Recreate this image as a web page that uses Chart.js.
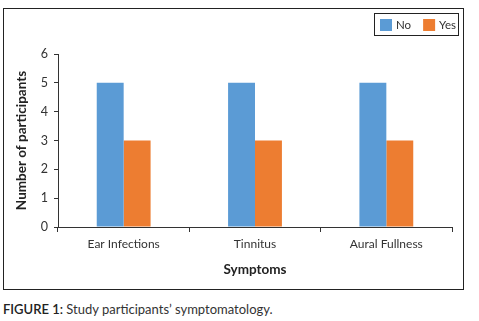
<!DOCTYPE html>
<html>
<head>
<meta charset="utf-8">
<script src="https://cdn.jsdelivr.net/npm/chart.js@4.4.0/dist/chart.umd.min.js"></script>
<style>
  html, body { margin: 0; padding: 0; background: #fff; }
  body { width: 479px; height: 321px; position: relative; overflow: hidden; font-family: Lato, "Open Sans", sans-serif; }
  #box { position: absolute; left: 3px; top: 8px; width: 459px; height: 280px; border: 1px solid #222; }
  #box canvas { display: block; }
  #caption { position: absolute; left: 3px; top: 301px; font-size: 13px; color: #333; white-space: nowrap; }
  #caption b { color: #222; font-weight: 600; }
</style>
</head>
<body>
<div id="box"><canvas id="c" width="459" height="280"></canvas></div>
<div id="caption"><b>FIGURE 1:</b> Study participants’ symptomatology.</div>
<script>
const categories = ["Ear Infections", "Tinnitus", "Aural Fullness"];
const seriesNames = ["No", "Yes"];
const noValues = [5, 5, 5];
const yesValues = [3, 3, 3];
const yTicks = [0, 1, 2, 3, 4, 5, 6];
const xTitle = "Symptoms";
const yTitle = "Number of participants";

const colors = ["#5B9BD5", "#ED7D31"];
const FONT = "Lato, 'Open Sans', sans-serif";

const boxedLegend = {
  id: 'boxedLegend',
  afterDraw(chart) {
    const ctx = chart.ctx;
    const x0 = 370, y0 = 4, w = 84, h = 22;
    ctx.save();
    ctx.strokeStyle = '#222';
    ctx.lineWidth = 1;
    ctx.strokeRect(x0 + 0.5, y0 + 0.5, w, h);
    ctx.font = "11.5px " + FONT;
    ctx.textBaseline = 'middle';
    ctx.textAlign = 'left';
    let x = x0 + 6;
    chart.data.datasets.forEach((ds) => {
      ctx.fillStyle = ds.backgroundColor;
      ctx.fillRect(x, y0 + 6, 12, 12);
      ctx.fillStyle = '#333';
      ctx.fillText(ds.label, x + 16, y0 + 12);
      x += 16 + ctx.measureText(ds.label).width + 12;
    });
    ctx.restore();
  }
};

new Chart(document.getElementById('c'), {
  type: 'bar',
  data: {
    labels: categories,
    datasets: [
      { label: seriesNames[0], data: noValues, backgroundColor: colors[0] },
      { label: seriesNames[1], data: yesValues, backgroundColor: colors[1] }
    ]
  },
  options: {
    responsive: false,
    animation: false,
    devicePixelRatio: 1,
    layout: { padding: { top: 45, right: 11, left: 0, bottom: 0 } },
    plugins: { legend: { display: false }, tooltip: { enabled: false } },
    datasets: { bar: { categoryPercentage: 0.41, barPercentage: 1.0 } },
    scales: {
      x: {
        offset: true,
        grid: { display: true, offset: true, drawOnChartArea: false, drawTicks: true, tickLength: 5, color: '#333' },
        border: { display: true, color: '#333', width: 1 },
        ticks: { color: '#333', font: { family: FONT, size: 12 }, padding: 5, maxRotation: 0 },
        title: { display: true, text: xTitle, color: '#222', font: { family: FONT, size: 13.5, weight: 'bold' }, padding: { top: 4, bottom: 11 } },
        afterFit(scale) { scale.height = 62; }
      },
      y: {
        min: 0, max: 6,
        afterBuildTicks(scale) { scale.ticks = yTicks.map(v => ({ value: v })); },
        grid: { display: true, drawOnChartArea: false, drawTicks: true, tickLength: 4, color: '#333' },
        border: { display: true, color: '#333', width: 1 },
        ticks: { color: '#333', font: { family: FONT, size: 12.5 }, padding: 6 },
        title: { display: true, text: yTitle, color: '#222', font: { family: FONT, size: 13.5, weight: 'bold' }, padding: { top: 10, bottom: 4 } },
        afterFit(scale) { scale.width = 54; }
      }
    }
  },
  plugins: [boxedLegend]
});
</script>
</body>
</html>
